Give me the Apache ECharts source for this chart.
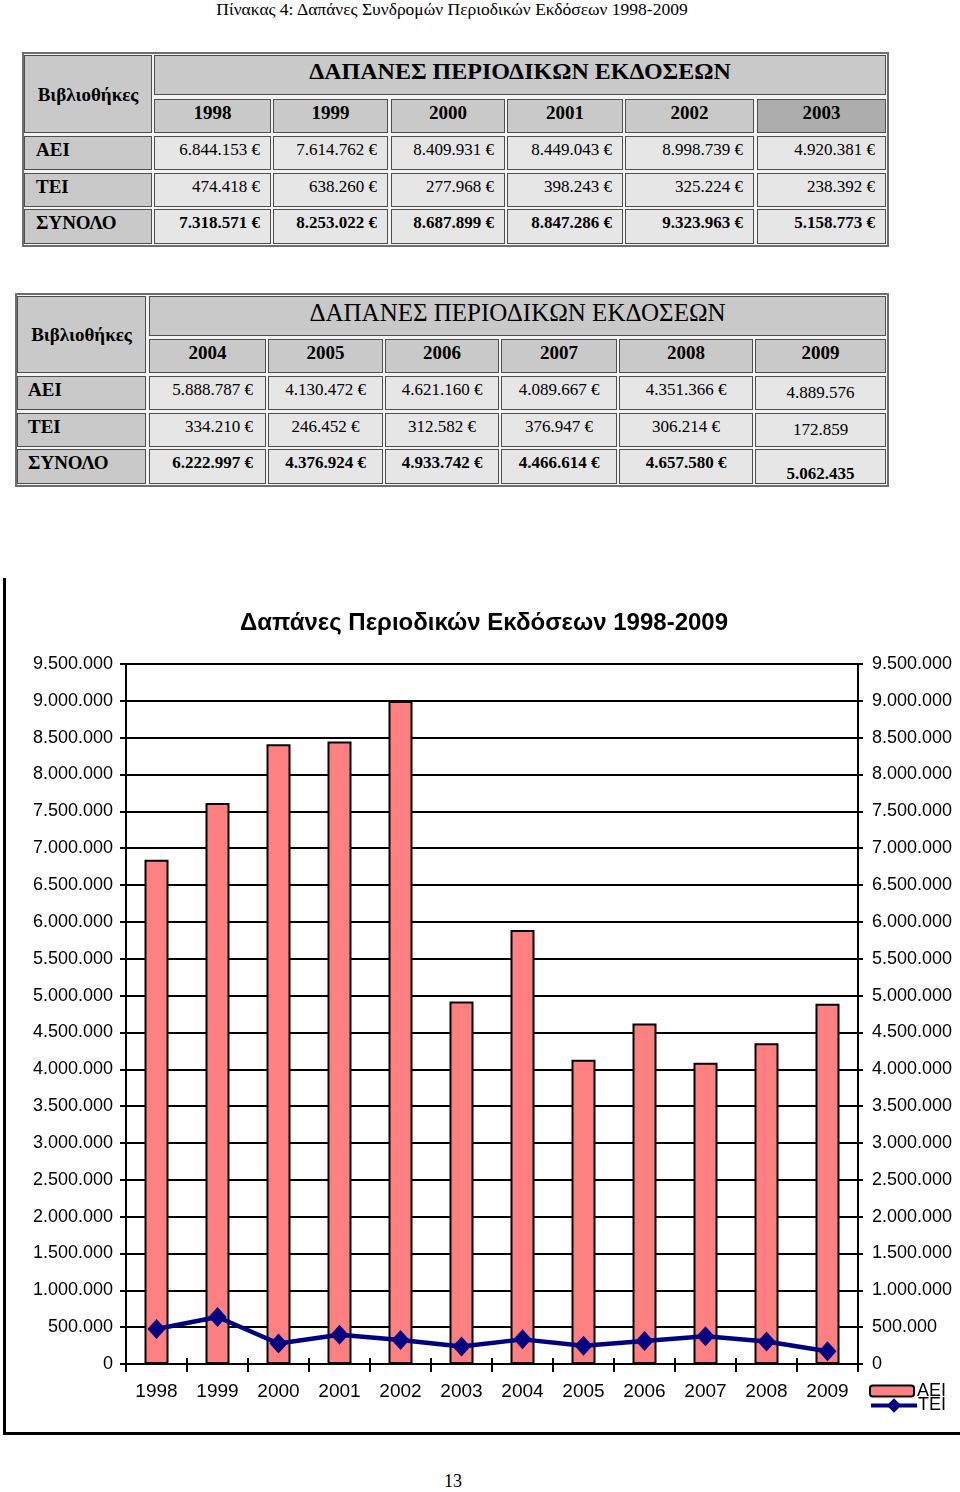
<!DOCTYPE html>
<html>
<head>
<meta charset="utf-8">
<script src="https://cdn.jsdelivr.net/npm/echarts@6/dist/echarts.min.js"></script>
<style>
  html,body{margin:0;padding:0;background:#fff;}
  body{width:960px;height:1492px;position:relative;overflow:hidden;font-family:'Liberation Serif','Times New Roman',serif;color:#000;}
  .frame{position:absolute;box-sizing:border-box;border:2px solid #6e6e6e;background:#f3f3f3;}
  .cell{position:absolute;box-sizing:border-box;border:1px solid #4e4e4e;display:flex;white-space:nowrap;line-height:1;}
  .hdr{background:#c9c9c9;}
  .dat{background:#e6e6e6;}
  #chart{position:absolute;left:0;top:560px;width:960px;height:900px;}
  #box{position:absolute;left:3px;top:578px;width:957px;height:857px;box-sizing:border-box;border-left:3px solid #000;border-bottom:3px solid #000;pointer-events:none;}
  .ptitle{position:absolute;left:0;width:904px;top:-1px;text-align:center;font-size:17.5px;}
  .pnum{position:absolute;left:0;width:906px;top:1471px;text-align:center;font-size:18px;}
</style>
</head>
<body>
<div class="ptitle">Πίνακας 4: Δαπάνες Συνδρομών Περιοδικών Εκδόσεων 1998-2009</div>
<div id="tables"></div>
<div id="chart"></div>
<div id="box"></div>
<div class="pnum">13</div>
<script>
// ---------------- DATA ----------------
const tableTitle = 'ΔΑΠΑΝΕΣ ΠΕΡΙΟΔΙΚΩΝ ΕΚΔΟΣΕΩΝ';
const headerLabel = 'Βιβλιοθήκες';
const rowLabels = ['ΑΕΙ', 'ΤΕΙ', 'ΣΥΝΟΛΟ'];
const years = ['1998','1999','2000','2001','2002','2003','2004','2005','2006','2007','2008','2009'];
const aeiValues = [6844153, 7614762, 8409931, 8449043, 8998739, 4920381, 5888787, 4130472, 4621160, 4089667, 4351366, 4889576];
const teiValues = [474418, 638260, 277968, 398243, 325224, 238392, 334210, 246452, 312582, 376947, 306214, 172859];
const totalValues = [7318571, 8253022, 8687899, 8847286, 9323963, 5158773, 6222997, 4376924, 4933742, 4466614, 4657580, 5062435];
const noEuroYears = ['2009'];
const chartTitle = 'Δαπάνες Περιοδικών Εκδόσεων 1998-2009';
const seriesNames = ['ΑΕΙ', 'ΤΕΙ'];
const yMin = 0, yMax = 9500000, yStep = 500000;

function fmt(n){ return String(n).replace(/\B(?=(\d{3})+(?!\d))/g, '.'); }
function money(n, year){ return fmt(n) + (noEuroYears.indexOf(year) >= 0 ? '' : ' €'); }

// ---------------- TABLES (layout) ----------------
const host = document.getElementById('tables');
function frame(x1,y1,x2,y2){
  const d=document.createElement('div'); d.className='frame';
  Object.assign(d.style,{left:x1+'px',top:y1+'px',width:(x2-x1)+'px',height:(y2-y1)+'px'});
  host.appendChild(d);
}
function cell(x1,y1,x2,y2,text,o){
  o=o||{};
  const d=document.createElement('div'); d.className='cell '+(o.cls||'dat');
  Object.assign(d.style,{left:x1+'px',top:y1+'px',width:(x2-x1)+'px',height:(y2-y1)+'px',
    fontSize:(o.size||17)+'px',fontWeight:o.bold?'bold':'normal',
    justifyContent:o.h==='l'?'flex-start':(o.h==='r'?'flex-end':'center'),
    alignItems:o.v==='m'?'center':(o.v==='b'?'flex-end':'flex-start'),
    paddingTop:(o.pt||0)+'px',paddingBottom:(o.pb||0)+'px',paddingLeft:(o.pl||0)+'px',paddingRight:(o.pr||0)+'px'});
  if(o.bg) d.style.background=o.bg;
  d.textContent=text; host.appendChild(d);
}
function buildTable(T, idx0){
  frame(T.ox1,T.oy1,T.ox2,T.oy2);
  const C=T.cols, R=T.rows;
  cell(C[0][0],R[0][0],C[0][1],R[1][1],headerLabel,{cls:'hdr',bold:true,size:19,v:'m'});
  cell(C[1][0],R[0][0],C[6][1],R[0][1],tableTitle,{cls:'hdr',bold:T.titleBold,size:T.titleSize,v:'t',pt:T.titlePt});
  for(let j=0;j<6;j++){
    cell(C[j+1][0],R[1][0],C[j+1][1],R[1][1],years[idx0+j],{cls:'hdr',bold:true,size:19,v:'t',pt:3,bg:T.yearBg[j]});
  }
  const vals=[aeiValues,teiValues,totalValues];
  for(let r=0;r<3;r++){
    cell(C[0][0],R[r+2][0],C[0][1],R[r+2][1],rowLabels[r],{cls:'hdr',bold:true,size:19,h:'l',pl:T.labelPl,v:'t',pt:3});
    for(let j=0;j<6;j++){
      const y=years[idx0+j];
      const al=T.align[j];
      const noE=noEuroYears.indexOf(y)>=0;
      cell(C[j+1][0],R[r+2][0],C[j+1][1],R[r+2][1],money(vals[r][idx0+j],y),
        {bold:r===2,size:17,h:al,pr:al==='r'?T.padR:0,
         v:noE?(r===2?'b':'m'):'t',pt:noE?0:4,pb:noE?1:0});
    }
  }
}
buildTable({
  ox1:22,oy1:52,ox2:889,oy2:247,
  cols:[[24,152],[154,271],[273,388],[391,505],[507,623],[625,754],[757,886]],
  rows:[[55,95],[99,133],[136,170],[173,207],[209,244]],
  titleBold:true,titleSize:24,titlePt:3,labelPl:11,padR:10,
  align:['r','r','r','r','r','r'],
  yearBg:[null,null,null,null,null,'#adadad']
},0);
buildTable({
  ox1:15,oy1:293,ox2:889,oy2:487,
  cols:[[17,146],[149,266],[268,383],[385,499],[501,617],[619,753],[755,886]],
  rows:[[296,336],[339,373],[376,410],[413,447],[449,484]],
  titleBold:false,titleSize:25,titlePt:3,labelPl:10,padR:12,
  align:['r','c','c','c','c','c'],
  yearBg:[null,null,null,null,null,null]
},6);

// ---------------- CHART ----------------
const chart = echarts.init(document.getElementById('chart'), null, {renderer:'canvas'});
const sans = "'Liberation Sans', Arial, sans-serif";
const yLabel = {color:'#000',fontSize:18,fontFamily:sans,formatter:v=>fmt(v)};
chart.setOption({
  animation:false,
  backgroundColor:'transparent',
  title:{text:chartTitle,left:240,top:51,padding:0,
    textStyle:{fontFamily:sans,fontSize:24,fontWeight:'bold',color:'#000'}},
  grid:{left:126,top:104,width:732,height:700,containLabel:false},
  legend:[
    {orient:'vertical',left:869,top:822,itemWidth:44,itemHeight:11,padding:0,
     textStyle:{fontFamily:sans,fontSize:18,color:'#000',lineHeight:15,padding:[0,0,0,-2]},
     data:[seriesNames[0]]},
    {orient:'vertical',left:869,top:835,itemWidth:46,itemHeight:18,padding:0,
     lineStyle:{width:4},
     textStyle:{fontFamily:sans,fontSize:18,color:'#000',lineHeight:15,padding:[6,0,0,-4]},
     data:[seriesNames[1]]}
  ],
  xAxis:[
    {type:'category',data:years,boundaryGap:true,
     axisLine:{lineStyle:{color:'#000',width:2}},
     axisTick:{show:true,length:8,lineStyle:{color:'#000',width:2}},
     axisLabel:{color:'#000',fontSize:19,fontFamily:sans,margin:18,interval:0}},
    {type:'category',data:years,boundaryGap:true,position:'bottom',
     axisLine:{show:false},
     axisTick:{show:true,inside:true,length:6,lineStyle:{color:'#000',width:2}},
     axisLabel:{show:false},splitLine:{show:false}}
  ],
  yAxis:[
    {type:'value',position:'left',min:yMin,max:yMax,interval:yStep,
     axisLine:{show:true,lineStyle:{color:'#000',width:2}},
     axisTick:{show:true,length:6,lineStyle:{color:'#000',width:2}},
     splitLine:{show:true,lineStyle:{color:'#000',width:2}},
     axisLabel:Object.assign({margin:13},yLabel)},
    {type:'value',position:'right',min:yMin,max:yMax,interval:yStep,
     axisLine:{show:true,lineStyle:{color:'#000',width:2}},
     axisTick:{show:true,length:5,lineStyle:{color:'#000',width:2}},
     splitLine:{show:false},
     axisLabel:Object.assign({margin:14},yLabel)}
  ],
  series:[
    {name:seriesNames[0],type:'bar',data:aeiValues,barWidth:24,z:2,
     itemStyle:{color:'#FF8080',borderColor:'#000',borderWidth:2}},
    {name:seriesNames[1],type:'line',data:teiValues,z:3,
     symbol:'diamond',symbolSize:[18,20],
     lineStyle:{color:'#000080',width:4.5},
     itemStyle:{color:'#000080',borderWidth:0}}
  ]
});
</script>
</body>
</html>
